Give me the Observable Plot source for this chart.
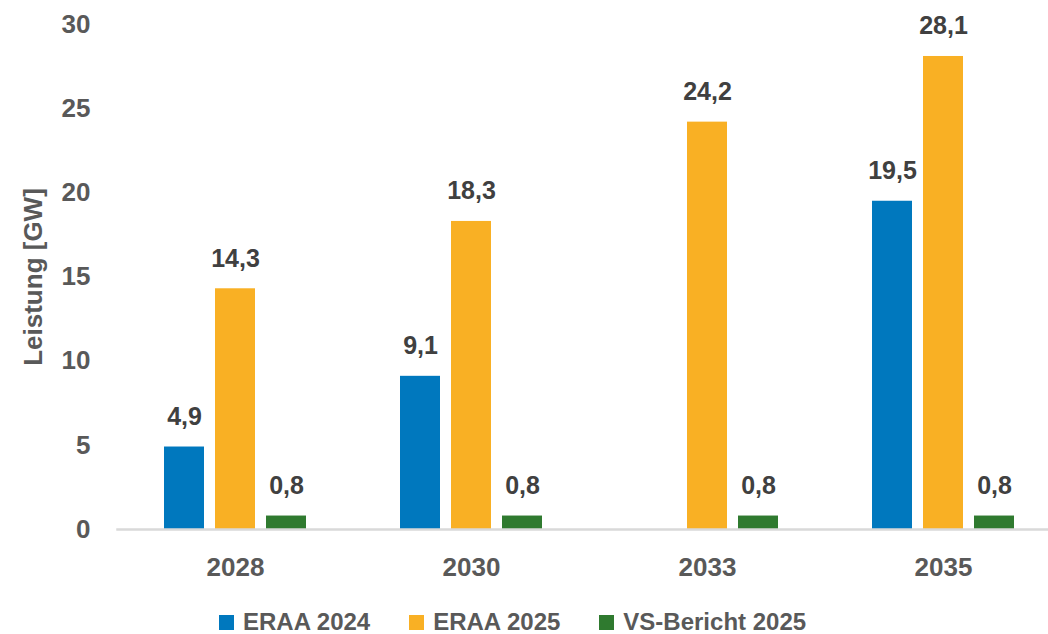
<!DOCTYPE html>
<html>
<head>
<meta charset="utf-8">
<script src="https://cdn.jsdelivr.net/npm/d3@7"></script>
<script src="https://cdn.jsdelivr.net/npm/@observablehq/plot@0.6"></script>
<style>
  html, body { margin: 0; padding: 0; background: #fff; overflow: hidden; width: 1048px; height: 634px; }
  #wrap { position: relative; width: 1048px; height: 634px; overflow: hidden; }
  #legend { position: absolute; top: 610px; left: 219px; display: flex; align-items: center;
    font-family: "Liberation Sans", Arial, sans-serif; font-weight: bold; font-size: 24px; line-height: 24px; color: #595959; }
  .item { display: flex; align-items: center; margin-right: 39px; }
  .sw { width: 15px; height: 15px; margin-right: 9px; }
</style>
</head>
<body>
<div id="wrap"><div id="chart"></div><div id="legend"></div></div>
<script>
const years = ["2028", "2030", "2033", "2035"];
const series = ["ERAA 2024", "ERAA 2025", "VS-Bericht 2025"];
const eraa2024 = [4.9, 9.1, null, 19.5];
const eraa2025 = [14.3, 18.3, 24.2, 28.1];
const vsBericht2025 = [0.8, 0.8, 0.8, 0.8];
const colors = ["#0078BE", "#F9B024", "#2F7A2F"];
const yTicks = [0, 5, 10, 15, 20, 25, 30];

const valuesBySeries = [eraa2024, eraa2025, vsBericht2025];
const data = [];
years.forEach((year, i) => {
  series.forEach((s, j) => {
    const v = valuesBySeries[j][i];
    if (v != null) data.push({year, series: s, value: v});
  });
});
const fmt = d => d3.format(".1f")(d.value).replace(".", ",");

const chart = Plot.plot({
  width: 1062,
  height: 580,
  marginLeft: 116,
  marginRight: 0,
  marginTop: 24,
  marginBottom: 51,
  style: {fontFamily: "'Liberation Sans', Arial, sans-serif", fontWeight: "bold", maxWidth: "none", overflow: "visible"},
  fx: {domain: years, paddingInner: 0, paddingOuter: 0, label: null},
  x: {domain: series, paddingInner: 0.21, paddingOuter: 0.879, axis: null},
  y: {domain: [0, 30], ticks: yTicks, label: "Leistung [GW]"},
  color: {domain: series, range: colors},
  marks: [
    Plot.axisY({ticks: yTicks, tickSize: 0, tickPadding: 27, fontSize: 26, color: "#595959",
      label: "Leistung [GW]", labelAnchor: "center", labelArrow: "none", labelOffset: 94}),
    Plot.axisFx({anchor: "bottom", tickSize: 0, tickPadding: 28, fontSize: 26, color: "#595959", label: null}),
    Plot.barY(data, {fx: "year", x: "series", y: "value", fill: "series"}),
    Plot.frame({anchor: "bottom", stroke: "#d9d9d9", strokeWidth: 2.5, facet: "super"}),
    Plot.text(data, {fx: "year", x: "series", y: "value", text: fmt, lineAnchor: "bottom", dy: -22,
      fontSize: 25, fill: "#404040"})
  ]
});
document.getElementById("chart").appendChild(chart);

const legend = document.getElementById("legend");
series.forEach((s, j) => {
  const item = document.createElement("div");
  item.className = "item";
  const sw = document.createElement("div");
  sw.className = "sw";
  sw.style.background = colors[j];
  const t = document.createElement("span");
  t.textContent = s;
  item.appendChild(sw);
  item.appendChild(t);
  legend.appendChild(item);
});
</script>
</body>
</html>
